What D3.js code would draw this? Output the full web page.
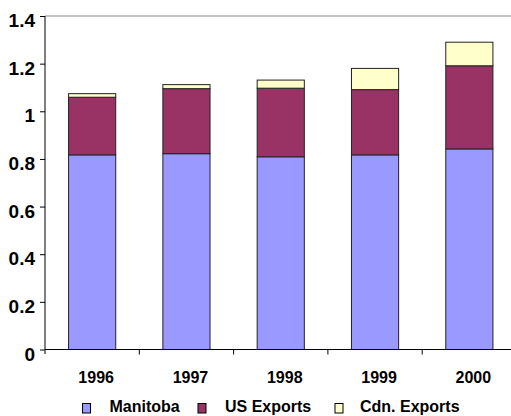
<!DOCTYPE html>
<html>
<head>
<meta charset="utf-8">
<script src="https://cdn.jsdelivr.net/npm/d3@7"></script>
<style>
  body { margin: 0; background: #fff; }
  svg { display: block; font-family: "Liberation Sans", Arial, sans-serif; font-weight: bold; }
</style>
</head>
<body>
<div id="canvas"></div>
<script>
const width = 511;
const height = 416;

// data
const years = ["1996", "1997", "1998", "1999", "2000"];
const seriesNames = ["Manitoba", "US Exports", "Cdn. Exports"];
const manitoba = [0.817, 0.822, 0.809, 0.817, 0.842];
const usExports = [0.242, 0.273, 0.288, 0.274, 0.349];
const cdnExports = [0.015, 0.017, 0.034, 0.089, 0.099];
const yTicks = [0, 0.2, 0.4, 0.6, 0.8, 1, 1.2, 1.4];
const colors = ["#9999FF", "#993366", "#FFFFCC"];

const table = years.map((y, i) => ({
    year: y,
    "Manitoba": manitoba[i],
    "US Exports": usExports[i],
    "Cdn. Exports": cdnExports[i]
}));
const stacked = d3.stack().keys(seriesNames)(table);

const svg = d3.select("#canvas")
    .append("svg")
    .attr("width", width)
    .attr("height", height);

const x = d3.scaleBand()
    .domain(years)
    .range([45, 516.5])
    .paddingInner(0.5)
    .paddingOuter(0.25);

const y = d3.scaleLinear()
    .domain([0, 1.4])
    .range([349.5, 16]);

// top border of plot area
svg.append("line")
    .attr("x1", 45)
    .attr("x2", width)
    .attr("y1", y(1.4))
    .attr("y2", y(1.4))
    .attr("stroke", "#b0b0b0")
    .attr("stroke-width", 1.5);

// bars
svg.selectAll(".series")
    .data(stacked)
    .join("g")
    .attr("class", "series")
    .attr("fill", (d, i) => colors[i])
    .selectAll("rect")
    .data(d => d)
    .join("rect")
    .attr("x", d => x(d.data.year))
    .attr("y", d => y(d[1]))
    .attr("width", x.bandwidth())
    .attr("height", d => y(d[0]) - y(d[1]))
    .attr("stroke", "#222")
    .attr("stroke-width", 1);

// y axis
const yAxis = svg.append("g")
    .attr("transform", "translate(45,0)")
    .call(d3.axisLeft(y).tickValues(yTicks).tickSize(5).tickPadding(5)
        .tickFormat(d => d3.format("")(+d.toFixed(1))));
yAxis.select(".domain").attr("stroke", "#000").attr("d", "M0,16V354");
yAxis.selectAll(".tick line").attr("stroke", "#000");
yAxis.selectAll(".tick text")
    .attr("font-size", 19)
    .attr("font-family", "Liberation Sans, Arial, sans-serif")
    .attr("font-weight", "bold")
    .attr("fill", "#000")
    .attr("dy", 10.5);

// x axis
const xAxis = svg.append("g")
    .attr("transform", `translate(0,${y(0)})`)
    .call(d3.axisBottom(x).tickSize(0).tickPadding(0));
xAxis.select(".domain").attr("stroke", "#000").attr("d", `M45,0H${width}`);
xAxis.selectAll(".tick text")
    .attr("font-size", 16)
    .attr("font-family", "Liberation Sans, Arial, sans-serif")
    .attr("font-weight", "bold")
    .attr("fill", "#000")
    .attr("y", 33)
    .attr("dy", 0)
    .attr("dx", 4);

// category boundary ticks
xAxis.selectAll(".sep")
    .data(years.slice(1))
    .join("line")
    .attr("class", "sep")
    .attr("x1", d => x(d) - x.step() * x.paddingInner() / 2)
    .attr("x2", d => x(d) - x.step() * x.paddingInner() / 2)
    .attr("y1", 0)
    .attr("y2", 5)
    .attr("stroke", "#000");

// legend
const legendX = [82.5, 198, 335];
const legend = svg.selectAll(".legend")
    .data(seriesNames)
    .join("g")
    .attr("class", "legend")
    .attr("transform", (d, i) => `translate(${legendX[i]},403.5)`);

legend.append("rect")
    .attr("width", 8)
    .attr("height", 9.5)
    .attr("fill", (d, i) => colors[i])
    .attr("stroke", "#000")
    .attr("stroke-width", 1);

legend.append("text")
    .attr("x", (d, i) => [27, 27, 25][i])
    .attr("y", 8.5)
    .attr("font-size", 16)
    .text(d => d);
</script>
</body>
</html>
